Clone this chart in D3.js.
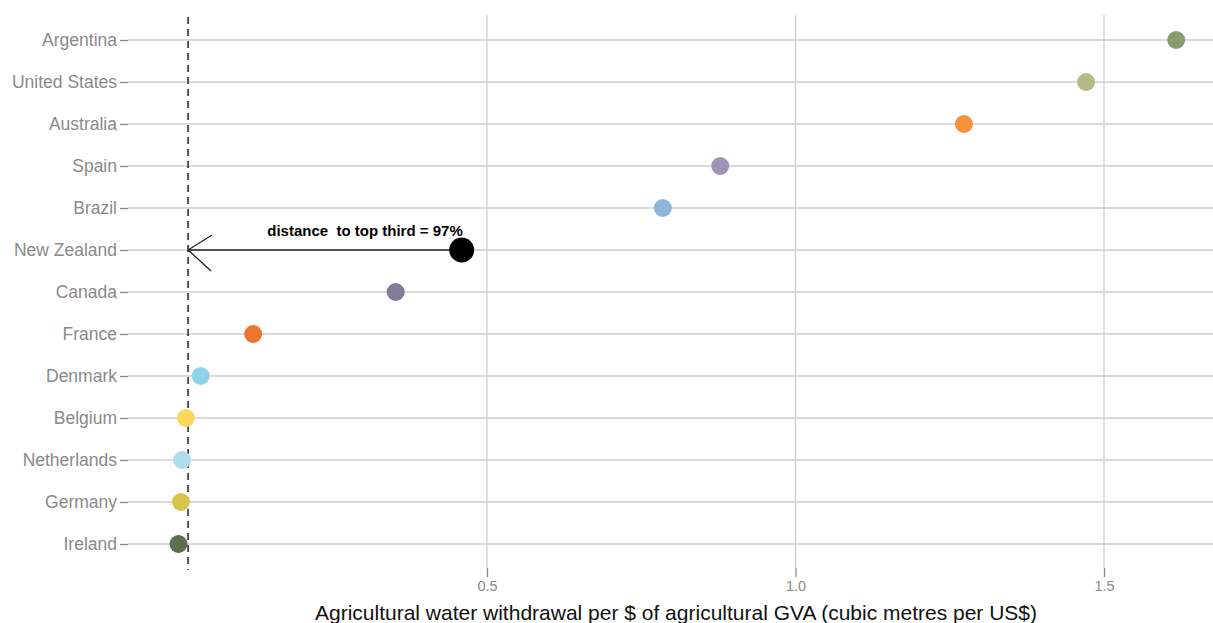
<!DOCTYPE html>
<html><head><meta charset="utf-8">
<script src="https://cdn.jsdelivr.net/npm/d3@7"></script>
<style>body{margin:0;background:#fff;}svg{display:block;font-family:"Liberation Sans",Arial,sans-serif;}</style>
</head><body>
<script>
const countries = ["Argentina","United States","Australia","Spain","Brazil","New Zealand","Canada","France","Denmark","Belgium","Netherlands","Germany","Ireland"];
const values = [1.617,1.471,1.273,0.878,0.785,0.459,0.352,0.121,0.036,0.012,0.006,0.004,0.000];
const colors = ["#8b9c6c","#b7b985","#f7913a","#a192b8","#8db5d9","#000000","#857c98","#ec762f","#8dd2e6","#fad85c","#aedeec","#d7c44b","#5d6f50"];
const xTicks = [0.5,1.0,1.5];
const threshold = 0.0155;
const highlight = "New Zealand";
const annotation = "distance  to top third = 97%";
const xTitle = "Agricultural water withdrawal per $ of agricultural GVA (cubic metres per US$)";

const W = 1213, H = 623;
const svg = d3.select("body").append("svg").attr("width", W).attr("height", H);
const pLeft = 128, pRight = 1213, pTop = 15, pBottom = 568;
const x = d3.scaleLinear().domain([0, 0.5]).range([178.5, 487]);
const y = d3.scalePoint().domain(countries).range([40, 544]);

// vertical grid
svg.append("g").selectAll("line").data(xTicks).join("line")
  .attr("x1", d => x(d)).attr("x2", d => x(d)).attr("y1", pTop).attr("y2", pBottom)
  .attr("stroke", "#cfcfcf").attr("stroke-width", 1.3);
// horizontal grid
svg.append("g").selectAll("line").data(countries).join("line")
  .attr("x1", pLeft).attr("x2", pRight).attr("y1", d => y(d)).attr("y2", d => y(d))
  .attr("stroke", "#cfcfcf").attr("stroke-width", 1.3);

// y axis
const yAxis = d3.axisLeft(y).tickSize(8).tickPadding(3);
const gy = svg.append("g").attr("transform", `translate(${pLeft},0)`).call(yAxis);
gy.select(".domain").remove();
gy.selectAll(".tick line").attr("stroke", "#888").attr("stroke-width", 1.3);
gy.selectAll(".tick text").attr("fill", "#8a8a8a").attr("font-size", 17.5).attr("font-family", "Liberation Sans, Arial, sans-serif");

// x axis
const xAxis = d3.axisBottom(x).tickValues(xTicks).tickFormat(d3.format(".1f")).tickSize(9).tickPadding(4);
const gx = svg.append("g").attr("transform", `translate(0,${pBottom})`).call(xAxis);
gx.select(".domain").remove();
gx.selectAll(".tick line").attr("stroke", "#888").attr("stroke-width", 1.3);
gx.selectAll(".tick text").attr("fill", "#8a8a8a").attr("font-size", 14.5).attr("font-family", "Liberation Sans, Arial, sans-serif");

svg.append("text").attr("x", 676).attr("y", 620).attr("text-anchor", "middle")
  .attr("font-size", 21).attr("fill", "#111").text(xTitle);

// dashed threshold
svg.append("line").attr("x1", x(threshold)).attr("x2", x(threshold)).attr("y1", 17).attr("y2", 570)
  .attr("stroke", "#222").attr("stroke-width", 1.5).attr("stroke-dasharray", "7,5");

// arrow
const hy = y(highlight), hx = x(values[countries.indexOf(highlight)]);
const ax = x(threshold);
svg.append("line").attr("x1", hx).attr("x2", ax).attr("y1", hy).attr("y2", hy).attr("stroke", "#222").attr("stroke-width", 1.3);
svg.append("path").attr("d", `M${ax+24},${hy-15}L${ax},${hy}L${ax+23},${hy+21}`)
  .attr("fill", "none").attr("stroke", "#222").attr("stroke-width", 1.3);

// points
svg.append("g").selectAll("circle").data(countries).join("circle")
  .attr("cx", (d,i) => x(values[i])).attr("cy", d => y(d))
  .attr("r", d => d === highlight ? 12.5 : 9)
  .attr("fill", (d,i) => colors[i]);

svg.append("text").attr("x", 365).attr("y", 236).attr("text-anchor", "middle")
  .style("white-space", "pre").attr("xml:space", "preserve")
  .attr("font-size", 15).attr("font-weight", "bold").attr("fill", "#000").text(annotation);
</script>
</body></html>
